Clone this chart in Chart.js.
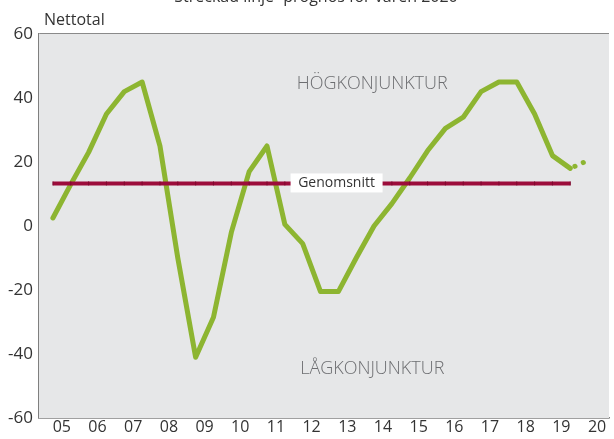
<!DOCTYPE html>
<html>
<head>
<meta charset="utf-8">
<script src="https://cdn.jsdelivr.net/npm/chart.js@4.4.1/dist/chart.umd.min.js"></script>
<style>
html, body { margin: 0; padding: 0; background: #fff; }
#wrap { width: 614px; height: 439px; position: relative; }
</style>
</head>
<body>
<div id="wrap"><canvas id="myChart"></canvas></div>
<script>
// halvårsvärden 2005 H1 .. 2019 H2
var years = ['05', '06', '07', '08', '09', '10', '11', '12', '13', '14', '15', '16', '17', '18', '19', '20'];
var nettotal = [2.5, 13, 23, 35, 42, 45, 25, -10, -41, -28.5, -2, 17, 25, 0.5, -5.5, -20.5,
    -20.5, -10, 0, 7, 15, 23.5, 30.5, 34, 42, 45, 45, 35, 22, 18];
var prognos = [18, 20.5];
var genomsnitt = 13.3;
var yTicks = [-60, -40, -20, 0, 20, 40, 60];

var ctx = document.getElementById('myChart').getContext('2d');
var font = "'Open Sans', sans-serif";

var mainData = nettotal.map(function (v, i) { return {x: i, y: v}; });
var progData = prognos.map(function (v, i) { return {x: nettotal.length - 1 + i, y: v}; });
var avgData = nettotal.map(function (v, i) { return {x: i, y: genomsnitt}; });

var texts = {
    id: 'texts',
    beforeDatasetsDraw: function (chart) {
        var c = chart.ctx;
        var a = chart.chartArea;
        c.save();
        c.fillStyle = '#e6e7e8';
        c.fillRect(a.left, a.top, a.right - a.left, a.bottom - a.top);
        c.restore();
    },
    afterDraw: function (chart) {
        var c = chart.ctx;
        var xs = chart.scales.x, ys = chart.scales.y;
        c.save();
        c.fillStyle = '#333';
        c.font = '16px ' + font;
        c.textAlign = 'center';
        c.textBaseline = 'alphabetic';
        c.fillText('Streckad linje=prognos för våren 2020', 316, 2);
        c.textAlign = 'left';
        c.fillText('Nettotal', 44, 25);

        c.fillStyle = '#6d6e71';
        c.font = '300 18px ' + font;
        c.textAlign = 'center';
        c.textBaseline = 'middle';
        c.fillText('HÖGKONJUNKTUR', xs.getPixelForValue(17.9), ys.getPixelForValue(44.5));
        c.fillText('LÅGKONJUNKTUR', xs.getPixelForValue(17.9), ys.getPixelForValue(-44.5));

        var cx = xs.getPixelForValue(15.9), cy = ys.getPixelForValue(genomsnitt);
        c.fillStyle = '#fff';
        c.fillRect(cx - 46, cy - 10, 92, 19);
        c.fillStyle = '#333';
        c.font = '14px ' + font;
        c.fillText('Genomsnitt', cx, cy);
        c.restore();
    }
};

var data = {
    datasets: [
        {
            label: 'Genomsnitt',
            data: avgData,
            borderColor: '#9c0d3b',
            borderWidth: 4,
            pointStyle: 'line',
            rotation: 90,
            pointRadius: 2,
            pointBorderColor: '#7d0a2f',
            pointBorderWidth: 1,
            tension: 0
        },
        {
            label: 'Nettotal',
            data: mainData,
            borderColor: '#8db531',
            borderWidth: 5,
            borderCapStyle: 'round',
            borderJoinStyle: 'round',
            pointRadius: 0,
            tension: 0
        },
        {
            label: 'Prognos',
            data: progData,
            borderColor: '#8db531',
            borderWidth: 5,
            borderCapStyle: 'round',
            borderDash: [0.1, 9],
            borderDashOffset: 4,
            pointRadius: 0,
            tension: 0
        }
    ]
};

var config = {
    type: 'line',
    data: data,
    plugins: [texts],
    options: {
        responsive: true,
        maintainAspectRatio: false,
        animation: false,
        layout: {padding: {top: 34, left: 0, right: 0, bottom: 0}},
        plugins: {
            legend: {display: false},
            tooltip: {enabled: false}
        },
        scales: {
            x: {
                type: 'linear',
                min: -0.78,
                max: 31.17,
                afterBuildTicks: function (scale) {
                    scale.ticks = years.map(function (y, i) { return {value: 2 * i + 0.5}; });
                },
                afterFit: function (scale) { scale.height = 21; },
                ticks: {
                    autoSkip: false,
                    maxRotation: 0,
                    padding: 1,
                    color: '#333',
                    font: {family: font, size: 16, lineHeight: 1},
                    callback: function (v, i) { return years[i]; }
                },
                grid: {display: false, drawTicks: false},
                border: {display: true, color: '#7f7f7f', width: 1.5}
            },
            y: {
                min: -60,
                max: 60,
                afterBuildTicks: function (scale) {
                    scale.ticks = yTicks.map(function (v) { return {value: v}; });
                },
                afterFit: function (scale) { scale.width = 39; },
                ticks: {
                    padding: 6,
                    color: '#333',
                    font: {family: font, size: 17}
                },
                grid: {
                    drawTicks: false,
                    color: function (c) {
                        var v = c.tick.value;
                        return (v === 0 || v === 60 || v === -60) ? '#8a8a8a' : '#ffffff';
                    },
                    lineWidth: 1.5
                },
                border: {display: true, color: '#7f7f7f', width: 1.5}
            }
        }
    }
};

var myChart = new Chart(ctx, config);
</script>
</body>
</html>
